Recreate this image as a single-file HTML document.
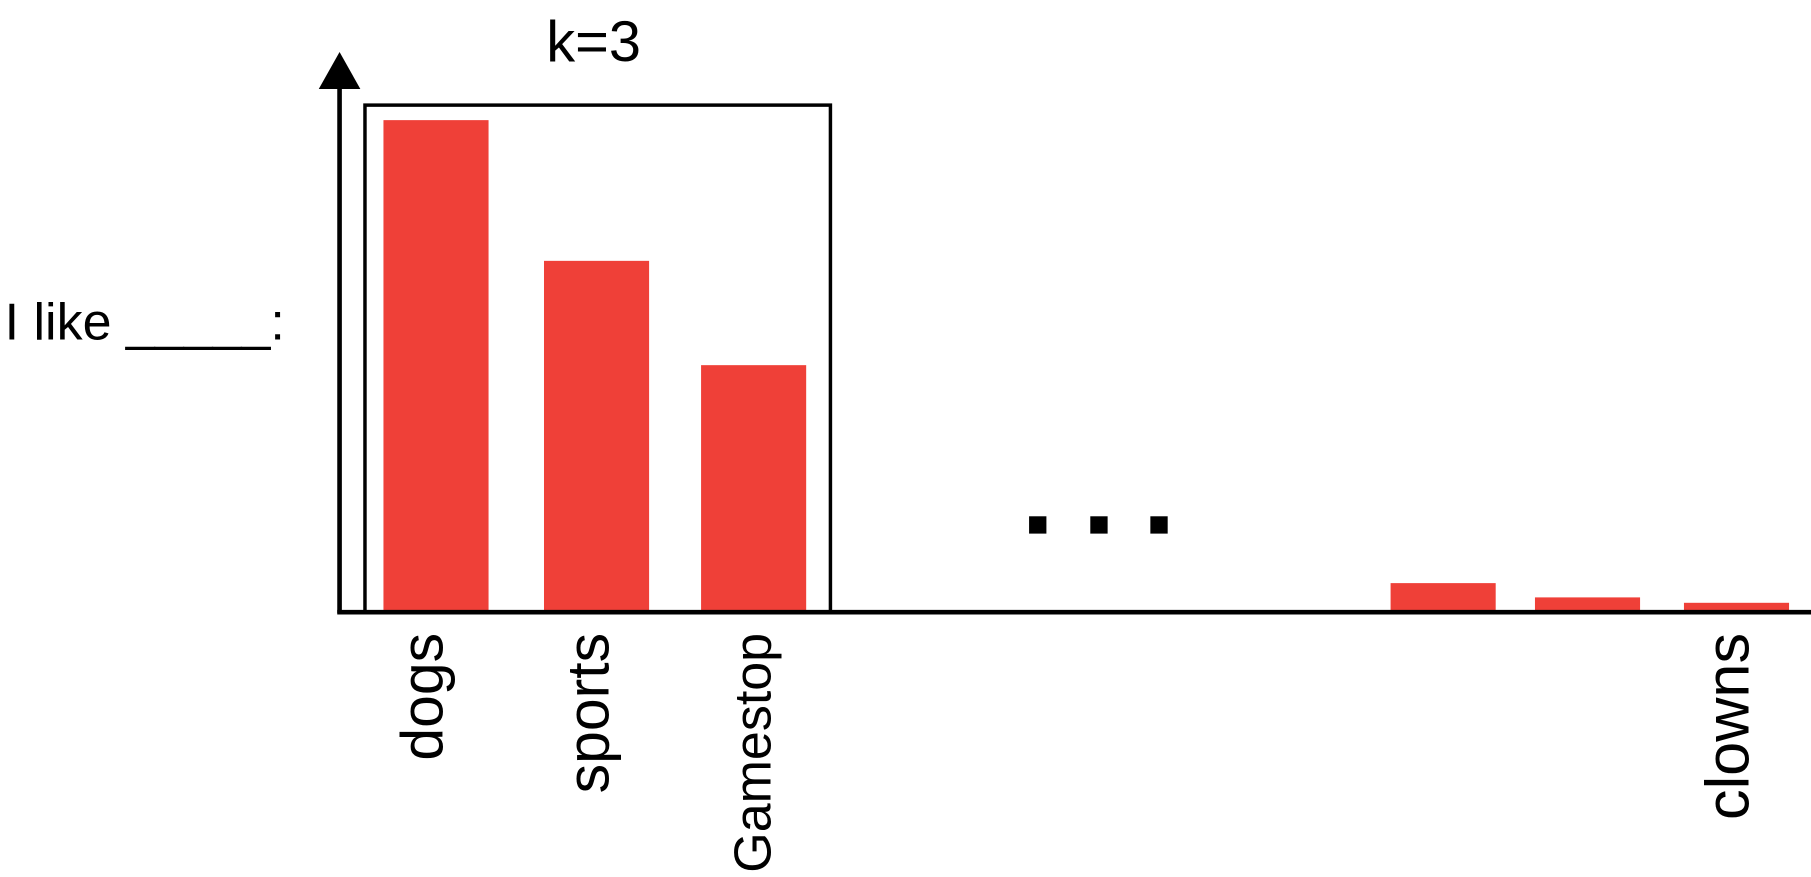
<!DOCTYPE html>
<html><head><meta charset="utf-8"><style>
html,body{margin:0;padding:0;background:#fff;width:1811px;height:877px;overflow:hidden}
svg{display:block}
text{font-family:"Liberation Sans",sans-serif;fill:#000}
</style></head><body>
<svg id="chart" width="1811" height="877" viewBox="0 0 1568 759.3" xmlns="http://www.w3.org/2000/svg">
<text x="514" y="53" font-size="50" text-anchor="middle">k=3</text>
<text x="4" y="294" font-size="45">I like _____:</text>
<rect x="316" y="91" width="403" height="439" fill="none" stroke="#000" stroke-width="3"/>
<g id="bars"></g>
<line x1="294" y1="531" x2="294" y2="70" stroke="#000" stroke-width="4"/>
<polygon points="276,77 294,45 312,77" fill="#000"/>
<line x1="292" y1="530" x2="1568" y2="530" stroke="#000" stroke-width="4"/>
<rect x="891" y="447" width="15" height="15" fill="#000"/>
<rect x="944" y="447" width="15" height="15" fill="#000"/>
<rect x="996" y="447" width="15" height="15" fill="#000"/>
<g id="labels"></g>
</svg>
<script>
const categories = ["dogs","sports","Gamestop","other1","other2","clowns"];
const values = [100, 71.4, 50.2, 5.9, 3.0, 1.9];
const labels = ["dogs","sports","Gamestop","","","clowns"];
const slotX = [332, 471, 607, 1204, 1329, 1458];
const NS = "http://www.w3.org/2000/svg";
const base = 530, yMax = 100, hMax = 426;
function yScale(v){ return base - v / yMax * hMax; }
const gb = document.getElementById('bars');
categories.forEach((c,i)=>{
  const r = document.createElementNS(NS,'rect');
  
  
  r.setAttribute('x', slotX[i]);
  r.setAttribute('width', 91);
  r.setAttribute('y', yScale(values[i]));
  r.setAttribute('height', base - yScale(values[i]));
  r.setAttribute('fill', '#ef4038');
  gb.appendChild(r);
});
const gl = document.getElementById('labels');
const baseX = [383, 527, 667, 0, 0, 1514];
const sizes = [51, 51, 45, 0, 0, 53];
labels.forEach((l,i)=>{
  if(!l) return;
  const t = document.createElementNS(NS,'text');
  
  
  t.setAttribute('transform', 'translate(' + baseX[i] + ',548) rotate(-90)');
  t.setAttribute('text-anchor', 'end');
  t.setAttribute('font-size', sizes[i]);
  t.textContent = l;
  gl.appendChild(t);
});
</script>
</body></html>
